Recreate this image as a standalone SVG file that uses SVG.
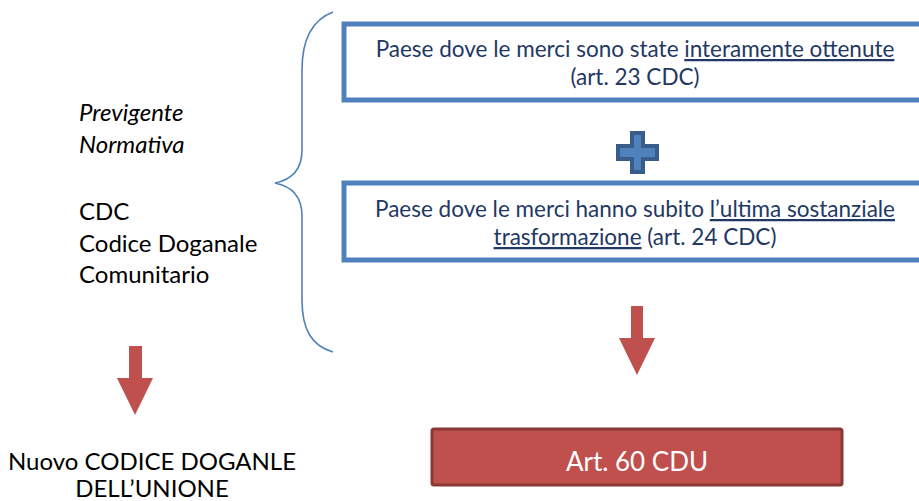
<svg xmlns="http://www.w3.org/2000/svg" width="919" height="501" viewBox="0 0 919 501">
<style>
.t{font-family:Lato,"Open Sans",sans-serif;font-size:24px;fill:#000}
.bt{font-family:Lato,"Open Sans",sans-serif;font-size:22.5px;fill:#1F3864;text-anchor:middle}
.u{text-decoration:underline}
.box{fill:#fff;stroke:#4F81BD;stroke-width:5}
.arr{fill:#C0504D}
</style>
<rect width="919" height="501" fill="#fff"/>
<g id="left-label">
<text class="t" x="79" y="121" font-style="italic">Previgente</text>
<text class="t" x="79" y="153" font-style="italic">Normativa</text>
<text class="t" x="79" y="220">CDC</text>
<text class="t" x="79" y="252">Codice Doganale</text>
<text class="t" x="79" y="283">Comunitario</text>
</g>
<g id="brace">
<path d="M333,12 C312,20 302,40 302,70 L302,150 C302,172 290,180 275,183 C290,186 302,194 302,216 L302,300 C302,330 312,346 333,352" fill="none" stroke="#4F81BD" stroke-width="1.6"/>
</g>
<g id="box1">
<rect class="box" x="344" y="24" width="590" height="76"/>
<text class="bt" x="635" y="57">Paese dove le merci sono state <tspan class="u">interamente ottenute</tspan></text>
<text class="bt" x="635" y="85">(art. 23 CDC)</text>
</g>
<g id="plus">
<path d="M630,131 H645 V144 H659 V161 H645 V174 H630 V161 H616 V144 H630 Z" fill="#385D8A"/>
<path d="M634,135 H641 V148 H655 V157 H641 V170 H634 V157 H620 V148 H634 Z" fill="#4F81BD"/>
</g>
<g id="box2">
<rect class="box" x="344" y="183" width="590" height="77"/>
<text class="bt" x="635" y="217">Paese dove le merci hanno subito <tspan class="u">l’ultima sostanziale</tspan></text>
<text class="bt" x="635" y="245"><tspan class="u">trasformazione</tspan> (art. 24 CDC)</text>
</g>
<g id="connectors">
<path class="arr" d="M631,306 H643 V338 H655 L637,375 L619,338 H631 Z"/>
<path class="arr" d="M129,346 H142 V378 H153 L135,415 L117,378 H129 Z"/>
</g>
<g id="new-code">
<text class="t" x="152" y="470" text-anchor="middle" font-size="22.5">Nuovo CODICE DOGANLE</text>
<text class="t" x="152" y="497" text-anchor="middle" font-size="22.5">DELL’UNIONE</text>
</g>
<g id="art60">
<rect x="432" y="429" width="410" height="56" rx="2" fill="#C0504D" stroke="#8C3836" stroke-width="3"/>
<text x="637" y="471" text-anchor="middle" font-family="Lato,'Open Sans',sans-serif" font-size="26" fill="#fff">Art. 60 CDU</text>
</g>
</svg>
